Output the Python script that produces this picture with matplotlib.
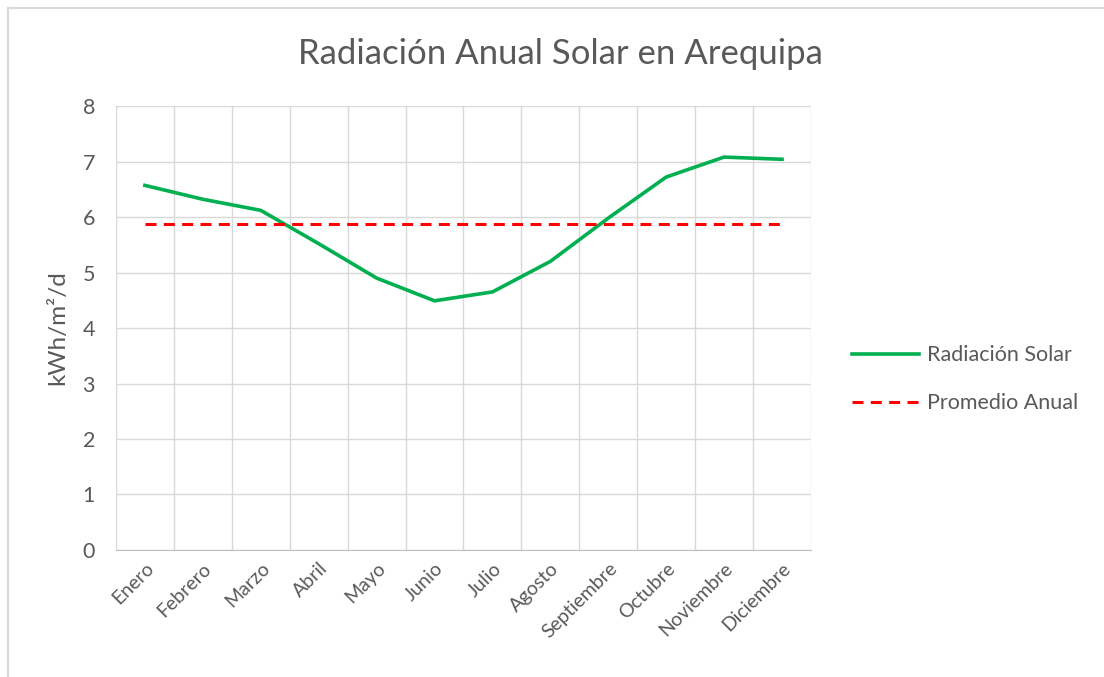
import matplotlib
matplotlib.use("Agg")
import matplotlib.pyplot as plt
from matplotlib.lines import Line2D

# datos
meses = ["Enero", "Febrero", "Marzo", "Abril", "Mayo", "Junio", "Julio",
         "Agosto", "Septiembre", "Octubre", "Noviembre", "Diciembre"]
radiacion = [6.57, 6.32, 6.12, 5.52, 4.90, 4.49, 4.65, 5.20, 5.98, 6.72, 7.08, 7.04]
promedio = [5.88, 5.88, 5.88, 5.88, 5.88, 5.88, 5.88, 5.88, 5.88, 5.88, 5.88, 5.88]

gris = "#595959"
plt.rcParams["font.family"] = ["Lato", "DejaVu Sans"]

fig = plt.figure(figsize=(11.04, 6.77), dpi=100)
ax = fig.add_axes([0.105, 0.1876, 0.6296, 0.6558])

x = list(range(len(meses)))
ax.plot(x, radiacion, color="#00B050", lw=2.6, label="Radiación Solar")
ax.plot(x, promedio, color="#FF0000", lw=2.2, dashes=(3.6, 2.4), label="Promedio Anual")

ax.set_xlim(-0.5, 11.5)
ax.set_ylim(0, 8)
ax.set_yticks(range(0, 9))
ax.set_xticks(x)
ax.set_xticks([i - 0.5 for i in range(13)], minor=True)
ax.set_xticklabels(meses, rotation=45, ha="right", va="top", rotation_mode="anchor",
                   fontsize=14, color=gris)
ax.tick_params(axis="x", which="both", length=0, pad=7)
ax.tick_params(axis="y", length=0, pad=24, labelsize=15.5, labelcolor=gris)
for lab in ax.get_yticklabels():
    lab.set_horizontalalignment("left")
ax.grid(True, axis="y", color="#d9d9d9", lw=1)
ax.grid(True, axis="x", which="minor", color="#d9d9d9", lw=1)
ax.set_axisbelow(True)
for s in ["top", "right", "left"]:
    ax.spines[s].set_visible(False)
ax.spines["bottom"].set_color("#bfbfbf")

ax.set_ylabel("kWh/m²/d", fontsize=17.5, color=gris, labelpad=10)
fig.text(0.508, 0.92, "Radiación Anual Solar en Arequipa", ha="center", va="center",
         fontsize=25, color=gris)

ax.legend(loc="center left", bbox_to_anchor=(0.7545, 0.44), bbox_transform=fig.transFigure,
          frameon=False, fontsize=15.5, labelcolor=gris, handlelength=3.1,
          handletextpad=0.35, labelspacing=1.3)

# borde del area del grafico
fig.add_artist(Line2D([7.5 / 1104, 1], [1 - 8 / 677, 1 - 8 / 677], color="#d9d9d9", lw=1.5))
fig.add_artist(Line2D([7.5 / 1104, 7.5 / 1104], [0, 1 - 8 / 677], color="#d9d9d9", lw=1.5))

fig.savefig("out.png", dpi=100)
